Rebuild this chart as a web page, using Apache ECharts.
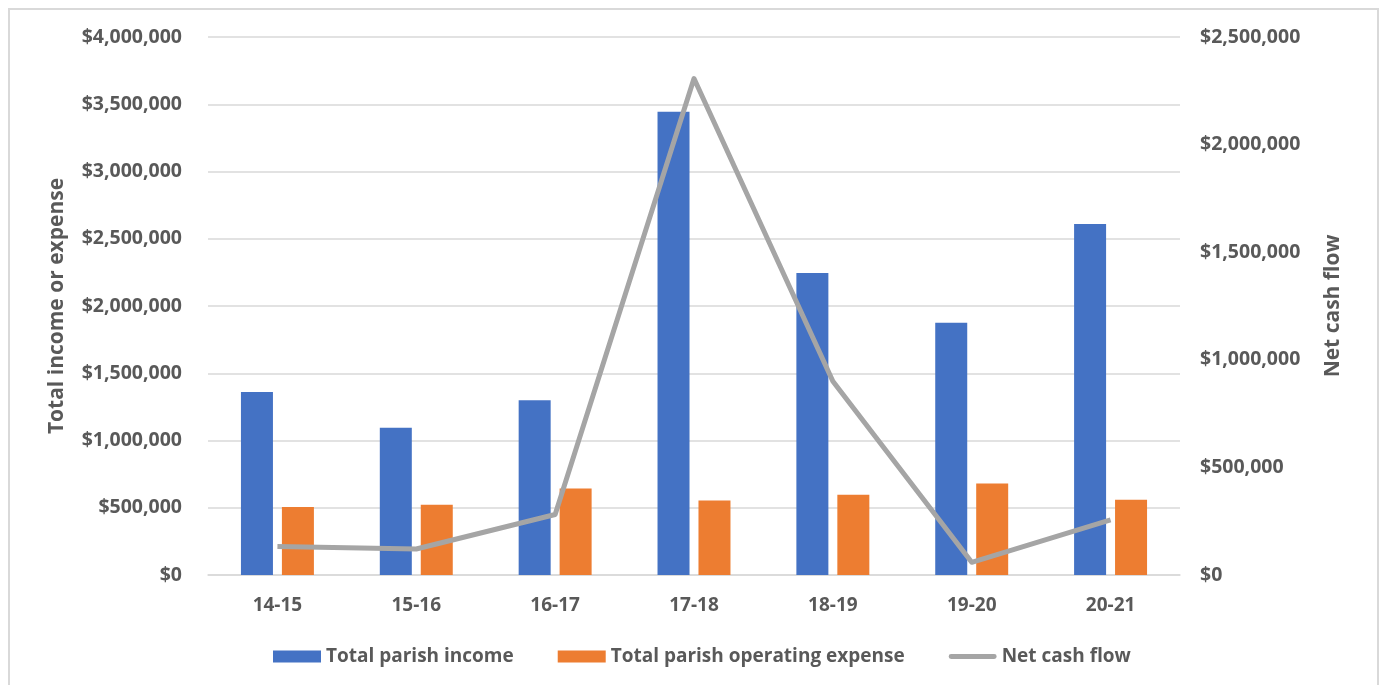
<!DOCTYPE html>
<html><head><meta charset="utf-8">
<script src="https://cdn.jsdelivr.net/npm/echarts@6/dist/echarts.min.js"></script>
<style>html,body{margin:0;padding:0;background:#fff}#c{width:1380px;height:685px}</style>
</head><body><div id="c"></div>
<script>
const categories = ['14-15','15-16','16-17','17-18','18-19','19-20','20-21'];
const incomeValues = [1360000, 1095000, 1300000, 3445000, 2245000, 1875000, 2610000];
const expenseValues = [506000, 523000, 644000, 553000, 597000, 681000, 560000];
const netCashValues = [132000, 121000, 281000, 2307000, 900000, 59000, 256000];
const seriesNames = ['Total parish income','Total parish operating expense','Net cash flow'];
const leftAxisName = 'Total income or expense';
const rightAxisName = 'Net cash flow';

const fmt = v => '$' + v.toLocaleString('en-US');
const FONT = '"Open Sans", sans-serif';
const TXT = '#595959';
const chart = echarts.init(document.getElementById('c'), null, {renderer:'canvas'});
chart.setOption({
  animation:false,
  textStyle:{fontFamily:FONT},
  graphic:[{type:'rect',shape:{x:9,y:9,width:1369,height:700},style:{fill:null,stroke:'#d9d9d9',lineWidth:2},silent:true,z:-1}],
  grid:{left:208,right:200,top:37,bottom:110,containLabel:false},
  legend:{bottom:14,left:268,itemWidth:48,itemHeight:12,itemGap:44,
    textStyle:{color:TXT,fontSize:19,fontWeight:'bold',fontFamily:FONT},
    data:[{name:seriesNames[0],icon:'rect'},{name:seriesNames[1],icon:'rect'},
          {name:seriesNames[2],icon:'path://M2,0 L46,0 A2.5,2.5 0 0 1 46,5 L2,5 A2.5,2.5 0 0 1 2,0 Z'}]},
  xAxis:{type:'category',data:categories,
    axisLine:{lineStyle:{color:'#d9d9d9',width:1.5}},axisTick:{show:false},
    axisLabel:{color:TXT,fontSize:19,fontWeight:'bold',margin:21,fontFamily:FONT}},
  yAxis:[
    {type:'value',min:0,max:4000000,interval:500000,
     name:leftAxisName,nameLocation:'middle',nameGap:140,nameRotate:90,
     nameTextStyle:{color:TXT,fontSize:21,fontWeight:'bold',fontFamily:FONT},
     axisLine:{show:false},axisTick:{show:false},
     splitLine:{lineStyle:{color:'#d9d9d9',width:1.5}},
     axisLabel:{formatter:fmt,color:TXT,fontSize:19.5,fontWeight:'bold',margin:26,fontFamily:FONT}},
    {type:'value',min:0,max:2500000,interval:500000,position:'right',
     name:rightAxisName,nameLocation:'middle',nameGap:143,nameRotate:90,
     nameTextStyle:{color:TXT,fontSize:21,fontWeight:'bold',fontFamily:FONT},
     axisLine:{show:false},axisTick:{show:false},splitLine:{show:false},
     axisLabel:{formatter:fmt,color:TXT,fontSize:19.5,fontWeight:'bold',margin:20,fontFamily:FONT}}
  ],
  series:[
    {name:seriesNames[0],type:'bar',data:incomeValues,barWidth:32,barGap:'28%',itemStyle:{color:'#4472c4'}},
    {name:seriesNames[1],type:'bar',data:expenseValues,barWidth:32,barGap:'28%',itemStyle:{color:'#ed7d31'}},
    {name:seriesNames[2],type:'line',yAxisIndex:1,data:netCashValues,symbol:'none',showSymbol:false,
     lineStyle:{color:'#a5a5a5',width:5,join:'round'},itemStyle:{color:'#a5a5a5'},z:5}
  ]
});
</script></body></html>
